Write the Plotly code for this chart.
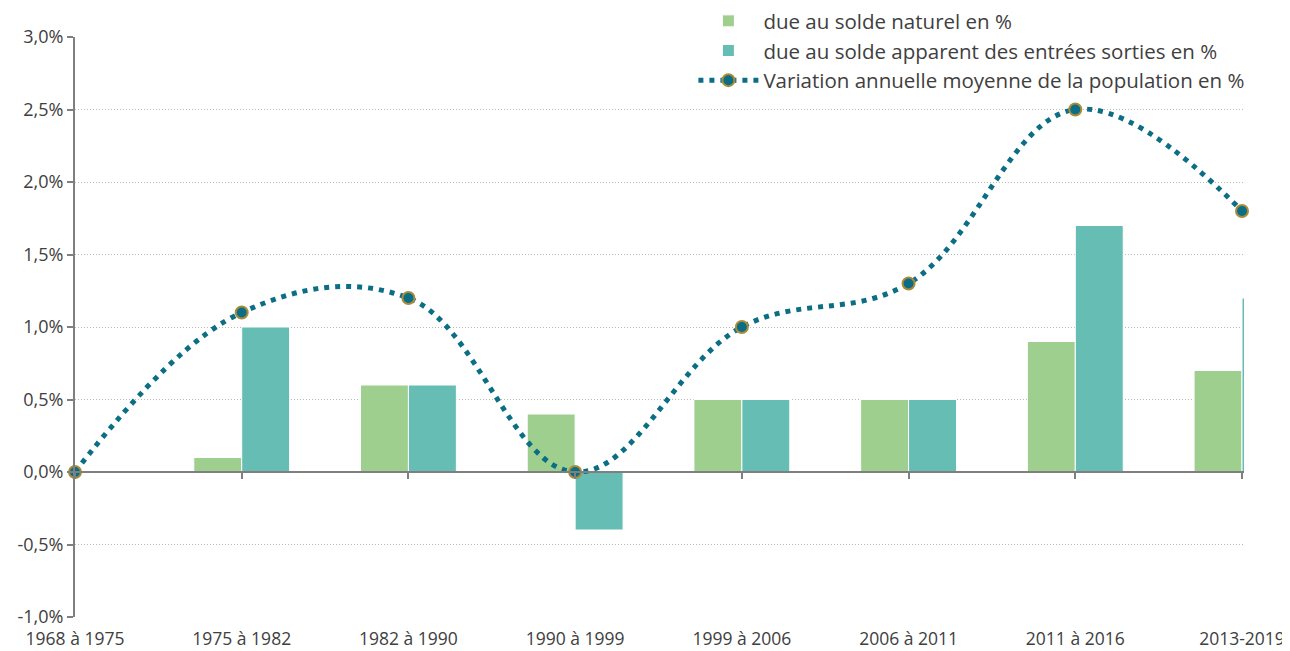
import plotly.graph_objects as go

categories = ["1968 à 1975", "1975 à 1982", "1982 à 1990", "1990 à 1999",
              "1999 à 2006", "2006 à 2011", "2011 à 2016", "2013-2019"]
solde_naturel = [None, 0.1, 0.6, 0.4, 0.5, 0.5, 0.9, 0.7]
solde_migratoire = [None, 1.0, 0.6, -0.4, 0.5, 0.5, 1.7, 1.2]
variation = [0.0, 1.1, 1.2, 0.0, 1.0, 1.3, 2.5, 1.8]
y_tickvals = [-1.0, -0.5, 0.0, 0.5, 1.0, 1.5, 2.0, 2.5, 3.0]
y_ticktext = ["-1,0%", "-0,5%", "0,0%", "0,5%", "1,0%", "1,5%", "2,0%", "2,5%", "3,0%"]

xpos = list(range(len(categories)))
FONT = "Open Sans"

fig = go.Figure()
fig.add_trace(go.Bar(
    x=xpos, y=solde_naturel, name="due au solde naturel en %",
    marker=dict(color="#9ecf8f", line=dict(color="#ffffff", width=1)),
))
fig.add_trace(go.Bar(
    x=xpos, y=solde_migratoire, name="due au solde apparent des entrées sorties en %",
    marker=dict(color="#65bdb3", line=dict(color="#ffffff", width=1)),
))
fig.add_trace(go.Scatter(
    x=xpos, y=variation, name="Variation annuelle moyenne de la population en %",
    mode="lines+markers", xaxis="x2", yaxis="y",
    line=dict(color="#0b6e84", width=5, dash="5px,6px", shape="spline", smoothing=1.1),
    marker=dict(size=12, color="#0b6e84", line=dict(color="#a88c3c", width=2)),
    cliponaxis=False,
))

fig.update_layout(
    width=1290, height=651,
    margin=dict(l=67, r=54, t=29, b=42, autoexpand=False),
    paper_bgcolor="white", plot_bgcolor="white",
    barmode="group", bargap=0.425, bargroupgap=0,
    font=dict(family=FONT, size=18, color="#404040"),
    showlegend=True,
    legend=dict(
        x=0.529, y=1.062, xanchor="left", yanchor="top",
        bgcolor="white", font=dict(size=20.5, color="#404040"),
        tracegroupgap=0, itemwidth=60,
    ),
    xaxis=dict(
        range=[0, 7.012], tickvals=xpos, ticktext=categories,
        showgrid=False, zeroline=False, showline=False, ticks="",
        tickfont=dict(size=17.5, color="#404040"), automargin=False,
        ticklabelstandoff=9,
    ),
    xaxis2=dict(
        range=[0, 7.012], overlaying="x", anchor="free", position=0.25,
        tickvals=xpos, showticklabels=False, showgrid=False, zeroline=False,
        showline=True, linecolor="#7f7f7f", linewidth=2,
        ticks="outside", ticklen=6, tickwidth=2, tickcolor="#7f7f7f",
        automargin=False,
    ),
    yaxis=dict(
        range=[-1.0, 3.0], tickvals=y_tickvals, ticktext=y_ticktext,
        showgrid=True, gridcolor="#b8b8b8", griddash="1px,2px", gridwidth=1,
        zeroline=False, showline=True, linecolor="#7f7f7f", linewidth=2,
        ticks="outside", ticklen=6, tickwidth=2, tickcolor="#7f7f7f",
        tickfont=dict(size=18, color="#404040"), automargin=False,
    ),
)

fig.write_html("out.html")
